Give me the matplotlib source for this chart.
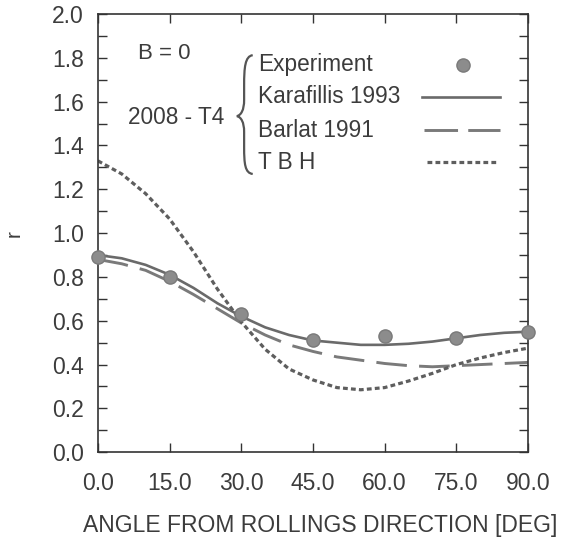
import matplotlib.pyplot as plt
from matplotlib.path import Path
from matplotlib.patches import PathPatch
import numpy as np

plt.rcParams['font.family'] = ['Liberation Sans', 'DejaVu Sans']

# 实验点
angle_exp = [0, 15, 30, 45, 60, 75, 90]
r_exp = [0.89, 0.80, 0.63, 0.51, 0.53, 0.52, 0.55]

# 模型曲线（每 5 度读一个值）
angle_fit = [0, 5, 10, 15, 20, 25, 30, 35, 40, 45, 50, 55, 60, 65, 70, 75, 80, 85, 90]
r_karafillis = [0.90, 0.885, 0.855, 0.81, 0.75, 0.68, 0.62, 0.57, 0.535, 0.51,
                0.50, 0.49, 0.49, 0.495, 0.505, 0.52, 0.535, 0.545, 0.55]
r_barlat = [0.88, 0.86, 0.83, 0.78, 0.72, 0.655, 0.59, 0.535, 0.49, 0.46,
            0.435, 0.42, 0.405, 0.395, 0.39, 0.395, 0.40, 0.405, 0.41]
r_tbh = [1.33, 1.27, 1.18, 1.065, 0.915, 0.745, 0.595, 0.47, 0.38, 0.33,
         0.295, 0.285, 0.295, 0.325, 0.36, 0.40, 0.43, 0.455, 0.475]

x_ticks = [0, 15, 30, 45, 60, 75, 90]
y_ticks = [0.0, 0.2, 0.4, 0.6, 0.8, 1.0, 1.2, 1.4, 1.6, 1.8, 2.0]

txt = '#3c3c3c'
c_exp = '#8c8c8c'
c_kar = '#6a6a6a'
c_bar = '#7a7a7a'
c_tbh = '#5e5e5e'

fig = plt.figure(figsize=(5.69, 5.39), dpi=100)
ax = fig.add_axes([0.172, 0.161, 0.756, 0.813])

# 曲线
ax.plot(angle_fit, r_karafillis, color=c_kar, lw=1.9, solid_capstyle='butt')
ax.plot(angle_fit, r_barlat, color=c_bar, lw=2.1, dashes=(10.5, 4.2))
ax.plot(angle_fit, r_tbh, color=c_tbh, lw=2.3, dashes=(1.5, 1.0))
ax.plot(angle_exp, r_exp, 'o', color=c_exp, mec='#7a7a7a', ms=9.5, clip_on=False, zorder=5)

ax.set_xlim(0, 90)
ax.set_ylim(0, 2.0)
ax.set_xticks(x_ticks)
ax.set_xticklabels([f'{v:.1f}' for v in x_ticks])
ax.set_yticks(y_ticks)
ax.set_yticklabels([f'{v:.1f}' for v in y_ticks])
ax.set_yticks(np.arange(0.1, 2.0, 0.2), minor=True)

ax.tick_params(axis='both', which='both', direction='in', length=6.5, width=1.0,
               color='#333333', labelcolor=txt, labelsize=16.5)
ax.tick_params(axis='x', top=True, pad=14)
ax.tick_params(axis='y', right=True, pad=10)
ax.tick_params(axis='y', which='minor', right=True)
for s in ax.spines.values():
    s.set_color('#333333')
    s.set_linewidth(1.2)

ax.set_xlabel('ANGLE FROM ROLLINGS DIRECTION [DEG]', fontsize=16.5, color=txt)
ax.xaxis.set_label_coords(0.516, -0.142)
ax.set_ylabel('r', fontsize=15, color=txt)
ax.yaxis.set_label_coords(-0.172, 0.5)

# 标注
ax.text(0.093, 0.911, 'B = 0', transform=ax.transAxes, fontsize=16, color=txt, va='center')
ax.text(0.070, 0.763, '2008 - T4', transform=ax.transAxes, fontsize=16.3, color=txt, va='center')

labels = ['Experiment', 'Karafillis 1993', 'Barlat 1991', 'T B H']
rows = [0.884, 0.811, 0.735, 0.662]
for lab, fy in zip(labels, rows):
    ax.text(0.372, fy, lab, transform=ax.transAxes, fontsize=16.3, color=txt, va='center')

# 图例样本
ax.plot([0.849], [rows[0]], 'o', color=c_exp, mec='#7a7a7a', ms=9.5, transform=ax.transAxes)
ax.plot([0.753, 0.935], [rows[1]] * 2, color=c_kar, lw=1.9, transform=ax.transAxes)
ax.plot([0.758, 0.935], [rows[2]] * 2, color=c_bar, lw=2.1, dashes=(11.5, 3.5),
        transform=ax.transAxes)
ax.plot([0.765, 0.930], [rows[3]] * 2, color=c_tbh, lw=2.3, dashes=(1.5, 1.0),
        transform=ax.transAxes)

# 大括号
verts = [(0.360, 0.906),
         (0.342, 0.904), (0.340, 0.877), (0.340, 0.838),
         (0.340, 0.804),
         (0.340, 0.781), (0.333, 0.769), (0.323, 0.767),
         (0.333, 0.765), (0.340, 0.753), (0.340, 0.731),
         (0.340, 0.696),
         (0.340, 0.658), (0.342, 0.637), (0.360, 0.635)]
codes = [Path.MOVETO,
         Path.CURVE4, Path.CURVE4, Path.CURVE4,
         Path.LINETO,
         Path.CURVE4, Path.CURVE4, Path.CURVE4,
         Path.CURVE4, Path.CURVE4, Path.CURVE4,
         Path.LINETO,
         Path.CURVE4, Path.CURVE4, Path.CURVE4]
ax.add_patch(PathPatch(Path(verts, codes), fill=False, lw=1.6, color='#555555',
                       transform=ax.transAxes))

fig.savefig('out.png', dpi=100)
